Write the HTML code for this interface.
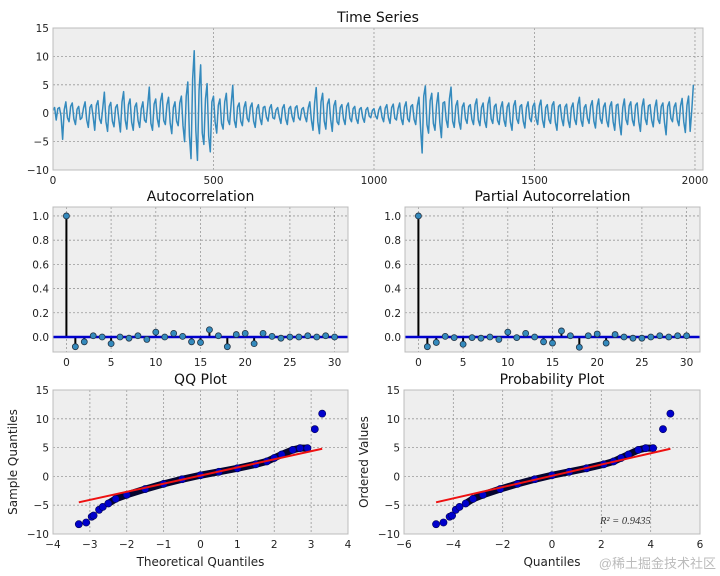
<!DOCTYPE html>
<html><head><meta charset="utf-8"><style>
body{margin:0;background:#fff;}
svg{display:block;font-family:"DejaVu Sans","Liberation Sans",sans-serif;}
</style></head><body>
<svg id="fig" width="720" height="576"></svg>
<script>
const tsValues=[0.5,1.0,-1.2,0.8,1.0,-0.5,-4.6,0.6,2.0,-0.8,-1.5,1.2,1.8,-1.0,-2.0,0.7,1.2,-1.1,-0.8,0.9,
2.0,-1.2,-2.5,1.0,1.5,-0.6,-3.0,1.4,2.2,-1.0,-1.8,0.9,3.7,-1.5,-3.2,1.2,1.9,-1.4,-2.4,1.0,
1.5,-1.0,-3.3,2.0,3.8,-1.2,-2.8,1.5,2.5,-1.6,-3.0,1.1,1.8,-1.3,-2.5,0.8,2.0,-1.2,-1.6,1.4,
4.6,-1.8,-3.0,1.6,2.5,-1.0,-2.4,2.1,3.5,-1.3,-2.0,1.5,2.8,-1.7,-3.6,1.0,2.0,-1.4,-2.2,1.8,
3.0,-2.2,-5.0,3.0,5.5,-4.0,-8.0,6.0,11.0,-3.0,-8.3,4.0,8.5,-3.5,-5.5,2.5,5.2,-4.0,-6.8,2.0,
3.0,-1.5,-3.5,1.4,2.5,-1.8,-2.8,2.0,3.5,-1.2,-2.0,1.6,4.9,-1.3,-2.5,1.1,1.8,-1.4,-2.2,1.0,
2.0,-0.9,-1.5,1.1,1.8,-1.4,-2.5,0.8,1.5,-0.9,-2.0,1.0,1.2,-0.7,-1.4,0.9,1.5,-0.8,-1.0,0.6,
1.0,-0.7,-1.8,0.9,1.5,-1.0,-2.0,0.8,1.2,-0.6,-1.5,1.0,1.3,-0.8,-1.2,0.7,1.0,-0.6,-1.5,0.9,
2.0,-1.2,-3.0,1.8,4.5,-1.5,-3.6,2.0,3.5,-1.4,-2.8,1.6,2.5,-1.1,-3.2,1.3,2.2,-1.5,-2.0,1.0,
1.5,-1.0,-2.0,1.2,1.8,-0.9,-1.5,0.8,1.2,-1.0,-1.8,0.7,1.0,-0.8,-1.6,0.6,1.0,-0.5,-0.8,0.5,
0.8,-0.5,-1.0,0.6,1.2,-0.7,-1.5,0.9,1.5,-0.8,-1.8,1.0,1.6,-0.9,-1.2,0.8,1.8,-1.0,-2.0,1.1,
2.0,-1.0,-1.5,1.2,1.5,-1.1,-2.0,1.3,2.8,-2.5,-7.0,3.0,4.8,-2.0,-3.5,2.2,3.5,-1.8,-3.0,1.5,
3.6,-1.6,-4.3,1.8,2.0,-1.2,-2.5,2.5,4.6,-1.4,-2.5,1.3,2.2,-1.5,-2.8,1.1,1.8,-1.0,-1.8,1.2,
1.5,-1.1,-2.0,1.5,2.5,-1.2,-2.2,1.0,1.8,-1.4,-2.5,1.6,2.8,-1.0,-1.8,1.2,1.6,-1.3,-2.0,1.0,
2.0,-1.2,-2.3,1.1,1.8,-1.6,-3.0,1.3,2.2,-1.0,-1.8,1.2,1.5,-1.4,-2.6,1.0,2.0,-0.9,-1.5,1.2,
1.8,-1.0,-2.0,1.3,2.3,-1.2,-2.5,1.0,1.5,-1.1,-1.8,1.4,2.0,-1.6,-3.0,1.2,1.5,-1.0,-2.2,1.1,
1.6,-1.3,-2.5,1.0,1.8,-1.1,-2.0,1.5,2.8,-1.2,-2.3,1.0,1.5,-0.9,-1.8,1.3,2.2,-1.4,-2.6,1.2,
2.5,-1.0,-1.8,1.1,1.8,-1.3,-2.4,1.2,2.0,-1.5,-3.0,1.4,1.6,-1.8,-3.8,1.0,2.5,-1.1,-2.0,1.3,
2.0,-1.2,-2.2,1.4,1.8,-1.5,-3.2,1.1,2.5,-1.0,-2.0,1.3,1.5,-1.2,-2.4,1.0,2.3,-1.1,-1.8,1.2,
1.8,-1.6,-3.8,1.2,2.0,-0.9,-1.5,1.1,1.8,-1.2,-2.2,1.3,2.6,-1.5,-3.4,1.4,3.0,-3.2,0.5,5.0];
const tsStep=5;
const acfValues=[1.0,-0.08,-0.04,0.01,0.0,-0.055,0.0,-0.01,0.01,-0.02,0.04,0.0,0.03,0.005,-0.04,-0.045,0.06,0.01,-0.08,0.02,0.03,-0.055,0.03,0.005,-0.01,0.0,0.0,0.01,0.0,0.01,0.0];
const pacfValues=[1.0,-0.08,-0.045,0.005,-0.005,-0.06,-0.005,-0.01,0.0,-0.02,0.04,-0.005,0.03,0.0,-0.04,-0.05,0.05,0.01,-0.085,0.01,0.025,-0.05,0.02,0.0,-0.01,-0.01,0.0,0.01,0.0,0.01,0.01];
const qqTheoretical=[-3.3,-3.1,-2.95,-2.9,-2.75,-2.65,-2.5,-2.3,-2.0,-1.5,-1.0,-0.5,0,0.5,1.0,1.5,1.8,2.0,2.2,2.5,2.7,2.9,3.1,3.3];
const qqSample=[-8.3,-8.0,-7.0,-6.8,-5.8,-5.3,-4.7,-3.9,-3.2,-2.2,-1.3,-0.5,0.2,0.8,1.4,2.1,2.6,3.2,3.8,4.6,4.9,4.9,8.2,10.9];
const qqLine=[[-3.3,-4.5],[3.3,4.8]];
const probQuantiles=[-4.7,-4.4,-4.15,-4.05,-3.9,-3.75,-3.5,-3.2,-2.8,-2.1,-1.4,-0.7,0,0.7,1.4,2.1,2.5,2.8,3.1,3.5,3.8,4.1,4.5,4.8];
const probLine=[[-4.7,-4.5],[4.8,4.8]];
const bandStart=6, bandEnd=21;
const tsTicksX=[0,500,1000,1500,2000], tsTicksY=[-10,-5,0,5,10,15];
const acfTicksX=[0,5,10,15,20,25,30], acfTicksY=[0.0,0.2,0.4,0.6,0.8,1.0];
const qqTicksX=[-4,-3,-2,-1,0,1,2,3,4], qqTicksY=[-10,-5,0,5,10,15];
const probTicksX=[-6,-4,-2,0,2,4,6];

const NS="http://www.w3.org/2000/svg", svg=document.getElementById('fig');
function el(tag,attrs,parent){const e=document.createElementNS(NS,tag);for(const k in attrs)e.setAttribute(k,attrs[k]);(parent||svg).appendChild(e);return e;}
function txt(s,attrs,parent){const t=el('text',attrs,parent);t.textContent=s;return t;}
function lab(v){return v<0?'\u2212'+Math.abs(v):String(v);}

function axes(name,x0,y0,x1,y1,xd,yd,xt,yt,title,fmtY,fmtX){
  const g=el('g',{});
  
  
  const sx=v=>x0+(v-xd[0])/(xd[1]-xd[0])*(x1-x0);
  const sy=v=>y1-(v-yd[0])/(yd[1]-yd[0])*(y1-y0);
  el('rect',{x:x0,y:y0,width:x1-x0,height:y1-y0,fill:'#eeeeee'},g);
  xt.forEach(v=>{const X=sx(v);
    el('line',{x1:X,x2:X,y1:y0,y2:y1,stroke:'#999',"stroke-dasharray":'2,2','stroke-width':0.8},g);
    const t=txt((fmtX||lab)(v),{x:X,y:y1+14,'font-size':10.5,'text-anchor':'middle',fill:'#222'},g);
    });
  yt.forEach(v=>{const Y=sy(v);
    el('line',{x1:x0,x2:x1,y1:Y,y2:Y,stroke:'#999',"stroke-dasharray":'2,2','stroke-width':0.8},g);
    const t=txt((fmtY||lab)(v),{x:x0-4,y:Y+4,'font-size':10.5,'text-anchor':'end',fill:'#222'},g);
    });
  const tt=txt(title,{x:(x0+x1)/2,y:y0-6,'font-size':14,'text-anchor':'middle',fill:'#111'},g);
  
  return {g,sx,sy,frame:()=>el('rect',{x:x0,y:y0,width:x1-x0,height:y1-y0,fill:'none',stroke:'#bcbcbc','stroke-width':1},g)};
}

// Time series
const ts=axes('time-series-panel',53,28,703,170,[0,2025],[-10,15],tsTicksX,tsTicksY,'Time Series');
const pts=tsValues.map((v,i)=>ts.sx(i*tsStep)+','+ts.sy(v)).join(' ');
const tl=el('polyline',{points:pts,fill:'none',stroke:'#348ABD','stroke-width':1.5,'stroke-linejoin':'round'},ts.g);

ts.frame();

function stem(name,x0,x1,vals,title){
  const a=axes(name,x0,207,x1,352,[-1.5,31.5],[-0.124,1.074],acfTicksX,acfTicksY,title,v=>v.toFixed(1),String);
  vals.forEach((v,i)=>{const X=a.sx(i);
    const s=el('line',{x1:X,x2:X,y1:a.sy(0),y2:a.sy(v),stroke:'#000','stroke-width':2},a.g);
    });
  el('line',{x1:x0,x2:x1,y1:a.sy(0),y2:a.sy(0),stroke:'#0000cc','stroke-width':2.5},a.g);
  vals.forEach((v,i)=>{
    const c=el('circle',{cx:a.sx(i),cy:a.sy(v),r:3,fill:'#348ABD',stroke:'#234','stroke-width':0.8},a.g);
    });
  a.frame();
}
stem('acf-panel',53,348,acfValues,'Autocorrelation');
stem('pacf-panel',405,700,pacfValues,'Partial Autocorrelation');

function qq(name,x0,x1,xd,xt,xs,ys,line,title,xlabel,ylabel){
  const a=axes(name,x0,390,x1,534,xd,[-10,15],xt,qqTicksY,title);
  const p=xs.slice(bandStart,bandEnd+1).map((v,i)=>a.sx(v)+','+a.sy(ys[i+bandStart])).join(' ');
  el('polyline',{points:p,fill:'none',stroke:'#050530','stroke-width':7,'stroke-linejoin':'round','stroke-linecap':'round'},a.g);
  xs.forEach((v,i)=>{const c=el('circle',{cx:a.sx(v),cy:a.sy(ys[i]),r:3.6,fill:'#0000cc',stroke:'#000055','stroke-width':0.6},a.g);
    });
  const rl=el('line',{x1:a.sx(line[0][0]),y1:a.sy(line[0][1]),x2:a.sx(line[1][0]),y2:a.sy(line[1][1]),stroke:'#ee1111','stroke-width':2},a.g);
  
  a.frame();
  const xl=txt(xlabel,{x:(x0+x1)/2,y:566,'font-size':12,'text-anchor':'middle',fill:'#222'},a.g);
  
  const yl=txt(ylabel,{x:0,y:0,'font-size':12,'text-anchor':'middle',fill:'#222',transform:`translate(${x0-36},462) rotate(-90)`},a.g);
  
  return a;
}
qq('qq-panel',53,348,[-4,4],qqTicksX,qqTheoretical,qqSample,qqLine,'QQ Plot','Theoretical Quantiles','Sample Quantiles');
const pp=qq('probability-panel',404,700,[-6,6],probTicksX,probQuantiles,qqSample,probLine,'Probability Plot','Quantiles','Ordered Values');
const r2=txt('R² = 0.9435',{x:600,y:524,'font-size':10.5,'font-style':'italic','font-family':'Liberation Serif, serif',fill:'#333'},pp.g);

const wm=txt('@稀土掘金技术社区',{x:716,y:568,'font-size':13,'text-anchor':'end',fill:'#bbb','font-family':'Liberation Sans, Noto Sans CJK SC, sans-serif'});

</script>
</body></html>
